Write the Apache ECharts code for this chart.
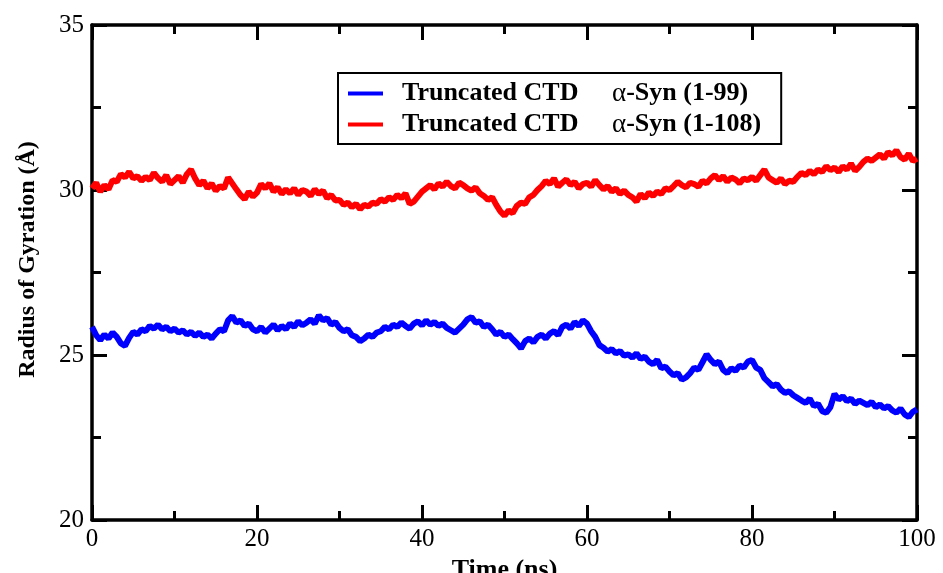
<!DOCTYPE html>
<html>
<head>
<meta charset="UTF-8">
<title>Radius of Gyration</title>
<script src="https://cdn.jsdelivr.net/npm/echarts@6/dist/echarts.min.js"></script>
<style>
  html, body { margin: 0; padding: 0; background: #fff; }
  #main { width: 943px; height: 573px; }
</style>
</head>
<body>
<div id="main"></div>
<script>
// time step of the trajectory samples (ns)
var step = 0.5;

// Rg of truncated CTD a-Syn (1-99), one value every 0.5 ns
var rg99 = [
  25.85, 25.60, 25.45, 25.62, 25.50, 25.68, 25.55, 25.35, 25.28, 25.52,
  25.70, 25.62, 25.78, 25.72, 25.88, 25.80, 25.92, 25.78, 25.85, 25.72,
  25.80, 25.68, 25.75, 25.62, 25.70, 25.58, 25.68, 25.55, 25.62, 25.50,
  25.65, 25.78, 25.72, 26.05, 26.18, 25.98, 26.05, 25.88, 25.95, 25.78,
  25.72, 25.85, 25.68, 25.80, 25.92, 25.75, 25.88, 25.78, 25.95, 25.85,
  26.02, 25.90, 25.98, 26.08, 25.95, 26.20, 26.05, 26.12, 25.92, 26.00,
  25.82, 25.72, 25.78, 25.60, 25.55, 25.42, 25.50, 25.62, 25.55, 25.68,
  25.72, 25.85, 25.78, 25.92, 25.85, 25.98, 25.88, 25.80, 25.95, 26.02,
  25.90, 26.05, 25.92, 26.00, 25.88, 25.95, 25.82, 25.75, 25.68, 25.80,
  25.92, 26.08, 26.15, 25.98, 26.02, 25.85, 25.92, 25.78, 25.62, 25.70,
  25.55, 25.62, 25.48, 25.35, 25.20, 25.42, 25.50, 25.38, 25.55, 25.62,
  25.50, 25.65, 25.72, 25.60, 25.85, 25.92, 25.80, 26.00, 25.88, 26.05,
  25.95, 25.72, 25.55, 25.30, 25.22, 25.10, 25.18, 25.05, 25.12, 24.98,
  25.02, 24.92, 25.05, 24.88, 24.95, 24.80, 24.72, 24.85, 24.60, 24.65,
  24.50, 24.38, 24.45, 24.25, 24.32, 24.45, 24.62, 24.55, 24.78, 25.02,
  24.85, 24.72, 24.80, 24.55, 24.45, 24.60, 24.52, 24.68, 24.62, 24.80,
  24.85, 24.62, 24.55, 24.30, 24.18, 24.05, 24.12, 23.95, 23.85, 23.90,
  23.78, 23.70, 23.62, 23.55, 23.68, 23.45, 23.52, 23.30, 23.25, 23.42,
  23.82, 23.65, 23.75, 23.60, 23.68, 23.52, 23.62, 23.55, 23.48, 23.58,
  23.42, 23.50, 23.38, 23.45, 23.32, 23.25, 23.38, 23.20, 23.12, 23.28,
  23.35
];

// Rg of truncated CTD a-Syn (1-108), one value every 0.5 ns
var rg108 = [
  30.05, 30.22, 29.95, 30.15, 30.02, 30.30, 30.25, 30.48, 30.38, 30.55,
  30.35, 30.42, 30.28, 30.40, 30.30, 30.52, 30.36, 30.25, 30.45, 30.18,
  30.30, 30.42, 30.22, 30.48, 30.62, 30.35, 30.15, 30.28, 30.05, 30.20,
  29.98, 30.12, 30.05, 30.38, 30.20, 30.02, 29.85, 29.72, 29.95, 29.80,
  29.92, 30.18, 30.05, 30.20, 29.95, 30.08, 29.88, 30.02, 29.90, 30.05,
  29.85, 30.00, 29.95, 29.82, 30.02, 29.88, 29.98, 29.75, 29.85, 29.68,
  29.70, 29.55, 29.62, 29.48, 29.58, 29.42, 29.55, 29.50, 29.62, 29.58,
  29.72, 29.65, 29.78, 29.70, 29.85, 29.75, 29.90, 29.58, 29.65, 29.80,
  29.95, 30.05, 30.15, 30.02, 30.20, 30.10, 30.25, 30.12, 30.05, 30.22,
  30.15, 30.05, 29.98, 30.08, 29.90, 29.82, 29.70, 29.78, 29.55, 29.35,
  29.22, 29.38, 29.30, 29.52, 29.62, 29.58, 29.78, 29.85, 30.00, 30.12,
  30.28, 30.18, 30.35, 30.10, 30.22, 30.32, 30.15, 30.25, 30.05, 30.18,
  30.22, 30.10, 30.30, 30.15, 30.02, 30.12, 29.95, 30.05, 29.88, 29.98,
  29.85, 29.78, 29.65, 29.88, 29.75, 29.92, 29.82, 29.95, 29.88, 30.05,
  30.00, 30.12, 30.25, 30.15, 30.08, 30.22, 30.18, 30.10, 30.28, 30.20,
  30.35, 30.45, 30.30, 30.42, 30.25, 30.38, 30.32, 30.20, 30.35, 30.30,
  30.40, 30.28, 30.45, 30.62, 30.38, 30.30, 30.22, 30.35, 30.18, 30.28,
  30.25, 30.40, 30.52, 30.45, 30.58, 30.48, 30.62, 30.55, 30.72, 30.60,
  30.68, 30.55, 30.72, 30.62, 30.80, 30.58, 30.70, 30.85, 30.95, 30.88,
  30.98, 31.08, 30.95, 31.15, 31.05, 31.20, 31.00, 30.92, 31.10, 30.88,
  30.95
];

var seriesNames = ['Truncated CTD  α-Syn (1-99)', 'Truncated CTD  α-Syn (1-108)'];

function pairs(vals) {
  var out = [];
  for (var i = 0; i < vals.length; i++) out.push([i * step, vals[i]]);
  return out;
}

var serif = 'Liberation Serif';
var black = '#000';

// shared look of the frame axes: thick black line, inward ticks
function frameAxis(extra) {
  var a = {
    type: 'value',
    axisLine: { show: true, onZero: false, lineStyle: { color: black, width: 3.5 } },
    axisTick: { show: true, inside: true, length: 15, lineStyle: { color: black, width: 3 } },
    minorTick: { show: true, splitNumber: 2, length: 9, lineStyle: { color: black, width: 3 } },
    splitLine: { show: false },
    axisLabel: { show: false }
  };
  for (var k in extra) a[k] = extra[k];
  return a;
}

var option = {
  animation: false,
  backgroundColor: '#fff',
  grid: { left: 92, right: 26, top: 25, bottom: 53, outerBoundsMode: 'none' },
  legend: {
    orient: 'vertical',
    left: 338,
    top: 73,
    padding: [7, 20, 6, 10],
    itemGap: 4,
    itemWidth: 35,
    itemHeight: 4,
    icon: 'rect',
    borderColor: black,
    borderWidth: 2,
    data: seriesNames,
    formatter: function (name) {
      var parts = name.split('α');
      return '{s| }{c|' + parts[0].trim() + '}{a|α}{b|' + parts[1] + '}';
    },
    textStyle: {
      color: black,
      rich: {
        s: { width: 14, fontSize: 24 },
        c: { width: 210, fontFamily: serif, fontWeight: 'bold', fontSize: 26, color: black },
        b: { fontFamily: serif, fontWeight: 'bold', fontSize: 26, color: black },
        a: { fontFamily: serif, fontWeight: 'normal', fontSize: 27, color: black }
      }
    }
  },
  xAxis: [
    frameAxis({
      min: 0, max: 100, interval: 20,
      position: 'bottom',
      name: 'Time (ns)',
      nameLocation: 'middle',
      nameGap: 31,
      nameTextStyle: { color: black, fontFamily: serif, fontWeight: 'bold', fontSize: 26 },
      axisLabel: { show: true, color: black, fontFamily: serif, fontSize: 25, margin: 7 }
    }),
    frameAxis({ min: 0, max: 100, interval: 20, position: 'top' })
  ],
  yAxis: [
    frameAxis({
      min: 20, max: 35, interval: 5,
      position: 'left',
      name: 'Radius of Gyration (Å)',
      nameLocation: 'middle',
      nameGap: 52,
      nameTextStyle: { color: black, fontFamily: serif, fontWeight: 'bold', fontSize: 24, padding: [0, 0, 0, 26] },
      axisLabel: { show: true, color: black, fontFamily: serif, fontSize: 25, margin: 8 }
    }),
    frameAxis({ min: 20, max: 35, interval: 5, position: 'right' })
  ],
  series: [
    {
      name: seriesNames[0],
      type: 'line',
      xAxisIndex: 0, yAxisIndex: 0,
      data: pairs(rg99),
      symbol: 'none',
      lineStyle: { color: '#0000ff', width: 6 },
      itemStyle: { color: '#0000ff' }
    },
    {
      name: seriesNames[1],
      type: 'line',
      xAxisIndex: 0, yAxisIndex: 0,
      data: pairs(rg108),
      symbol: 'none',
      lineStyle: { color: '#ff0000', width: 6 },
      itemStyle: { color: '#ff0000' }
    }
  ]
};

var myChart = echarts.init(document.getElementById('main'));
myChart.setOption(option);
</script>
</body>
</html>
